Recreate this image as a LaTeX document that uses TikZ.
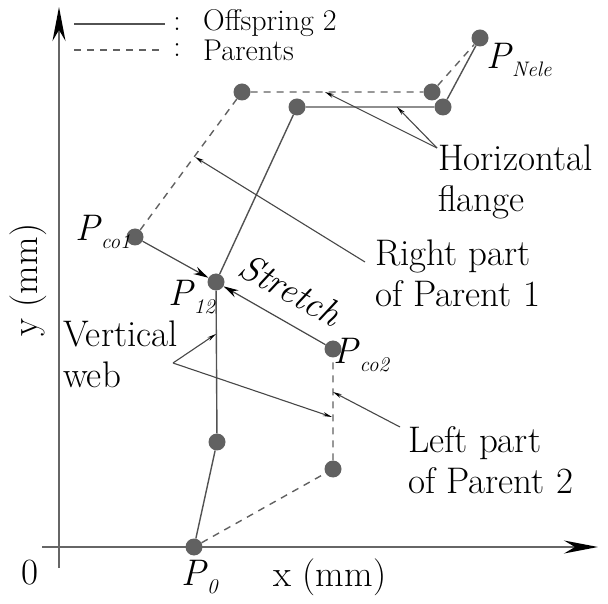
\documentclass[tikz,border=0pt]{standalone}
\usepackage{fontspec}
\setmainfont{Latin Modern Roman}
\usetikzlibrary{arrows.meta}
\newcommand{\Plab}[1]{\textit{P}\kern-0.02em\raisebox{-0.22em}{\fontsize{21}{21}\selectfont\textit{#1}}}
\tikzset{
  pt/.style={circle, fill=black!62, inner sep=0pt, minimum size=17pt},
  offs/.style={draw=black!68, line width=1.4pt},
  par/.style={draw=black!62, line width=1.4pt, dash pattern=on 7pt off 6pt},
  ann/.style={draw=black!72, line width=1.1pt, -{Stealth[length=9pt,width=4pt,black]}},
  big/.style={draw=black!72, line width=1.2pt, -{Stealth[length=15pt,width=8pt,black]}},
  axis/.style={draw=black!60, line width=1.4pt, -{Stealth[length=34pt,width=13pt,black]}},
  lab/.style={inner sep=0pt, font=\fontsize{37}{41}\selectfont},
  leg/.style={inner sep=0pt, font=\fontsize{30}{32}\selectfont}
}
\begin{document}
\begin{tikzpicture}[x=1pt,y=1pt]
\useasboundingbox (0,0) rectangle (608,603);
% axes
\coordinate (yb) at (59,35);
\coordinate (yt) at (59,596);
\coordinate (xb) at (42,56);
\coordinate (xt) at (598,56);
\draw[axis] (yb) -- (yt);
\draw[axis] (xb) -- (xt);
% legend
\coordinate (l1a) at (74,579);
\coordinate (l1b) at (165,579);
\coordinate (l2a) at (74,553);
\coordinate (l2b) at (165,553);
\draw[offs] (l1a) -- (l1b);
\draw[par] (l2a) -- (l2b);
\node[leg] (c1) at (177,579) {:};
\node[leg] (c2) at (177,553) {:};
\node[leg, anchor=west] (t1) at (203,580) {Offspring 2};
\node[leg, anchor=west] (t2) at (203,553) {Parents};
% points
\node[pt] (P0) at (194,56) {};
\node[pt] (A1) at (217,161) {};
\node[pt] (P12) at (216,321) {};
\node[pt] (T1) at (297,496) {};
\node[pt] (T2) at (443,496) {};
\node[pt] (PN) at (480,565) {};
\node[pt] (Q1) at (242,511) {};
\node[pt] (Q2) at (432,511) {};
\node[pt] (Pco1) at (135,366) {};
\node[pt] (Pco2) at (333,254) {};
\node[pt] (Q3) at (333,134) {};
% offspring
\draw[offs] (P0) -- (A1) -- (P12) -- (T1) -- (T2) -- (PN);
% parents
\draw[par] (Pco1) -- (Q1) -- (Q2) -- (PN);
\draw[par] (P0) -- (Q3) -- (Pco2);
% stretch arrows
\draw[big] (Pco1) -- (P12);
\draw[big] (Pco2) -- (P12);
% annotation arrows
\coordinate (V) at (173,240);
\coordinate (Vt1) at (216,269);
\coordinate (Vt2) at (332,186);
\draw[ann] (V) -- (Vt1);
\draw[ann] (V) -- (Vt2);
\coordinate (R) at (365,341);
\coordinate (Rt) at (195,446);
\draw[ann] (R) -- (Rt);
\coordinate (H) at (437,455);
\coordinate (Ht1) at (325,511);
\coordinate (Ht2) at (397,496);
\draw[ann] (H) -- (Ht1);
\draw[ann] (H) -- (Ht2);
\coordinate (L) at (400,176);
\coordinate (Lt) at (333,211);
\draw[ann] (L) -- (Lt);
% labels
\node[lab] (zero) at (30,30) {0};
\node[lab] (xl) at (330,26) {x (mm)};
\node[lab, rotate=90] (yl) at (28,323) {y (mm)};
\node[lab] (lP0) at (200,26) {\Plab{0}};
\node[lab] (lPco1) at (103,371) {\Plab{co1}};
\node[lab] (lP12) at (192,306) {\Plab{12}};
\node[lab] (lPco2) at (362,248) {\Plab{co2}};
\node[lab] (lPN) at (519,543) {\Plab{Nele}};
\node[lab, rotate=-29] (st) at (291,313) {\textit{Stretch}};
\node[lab, anchor=west, align=left] (vw) at (63,249) {Vertical\\web};
\node[lab, anchor=west, align=left] (rp) at (375,330) {Right part\\of Parent 1};
\node[lab, anchor=west, align=left] (hf) at (438,421) {Horizontal\\flange};
\node[lab, anchor=west, align=left] (lp) at (408,143) {Left part\\of Parent 2};
\end{tikzpicture}
\end{document}
